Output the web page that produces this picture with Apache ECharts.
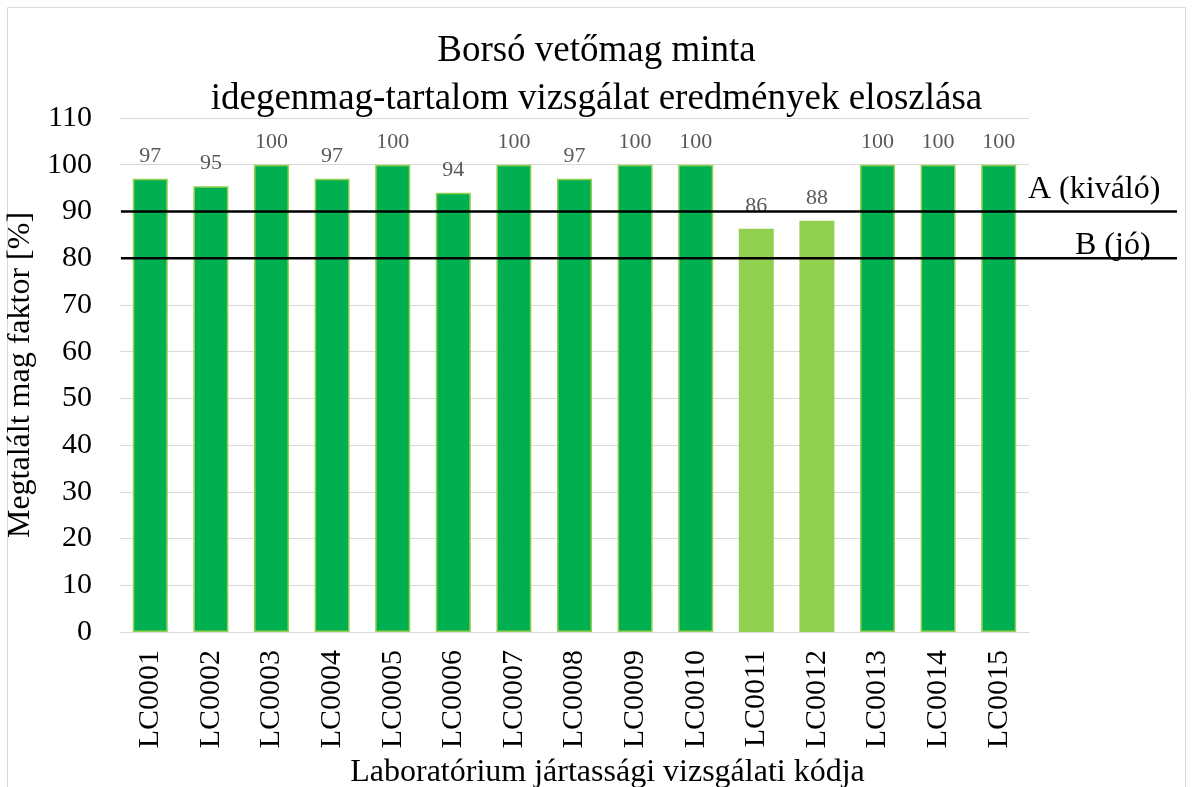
<!DOCTYPE html>
<html>
<head>
<meta charset="utf-8">
<script src="https://cdn.jsdelivr.net/npm/echarts@6/dist/echarts.min.js"></script>
<style>
  html, body { margin: 0; padding: 0; background: #fff; }
  #myChart { width: 1193px; height: 787px; }
</style>
</head>
<body>
<div id="myChart"></div>
<script>
// adatok
const labCodes = ['LC0001', 'LC0002', 'LC0003', 'LC0004', 'LC0005', 'LC0006', 'LC0007', 'LC0008',
  'LC0009', 'LC0010', 'LC0011', 'LC0012', 'LC0013', 'LC0014', 'LC0015']
const magFaktor = [97, 95.4, 100, 97, 100, 94, 100, 97, 100, 100, 86.3, 88, 100, 100, 100]
const yTicks = [0, 110, 10]  // min, max, lépés
const limitA = 90
const limitB = 80

const FONT = '"Liberation Serif", "Times New Roman", serif'
const DARK = '#00B050'
const LIGHT = '#92D050'

// 90 alatti eredmények világosabb zöldek
const barData = magFaktor.map(v => ({
  value: v,
  itemStyle: { color: v < limitA ? LIGHT : DARK }
}))

let options = {
  animation: false,
  title: {
    text: 'Borsó vetőmag minta\nidegenmag-tartalom vizsgálat eredmények eloszlása',
    left: 'center',
    top: 22,
    textStyle: {
      fontFamily: FONT,
      fontWeight: 'normal',
      fontSize: 37,
      lineHeight: 48,
      color: '#000'
    }
  },
  graphic: [{
    type: 'rect',
    shape: { x: 7.5, y: 7.5, width: 1178, height: 800 },
    style: { fill: 'none', stroke: '#d9d9d9', lineWidth: 1 },
    silent: true
  }],
  grid: [
    { left: 120, right: 164, top: 118, bottom: 155, outerBoundsMode: 'none', containLabel: false },
    // referencia vonalak a rajzterületen túl is futnak
    { left: 121, right: 16, top: 118, bottom: 155, outerBoundsMode: 'none', containLabel: false }
  ],
  xAxis: [
    {
      type: 'category',
      data: labCodes,
      gridIndex: 0,
      axisTick: { show: false },
      axisLine: { lineStyle: { color: '#d9d9d9', width: 1 } },
      axisLabel: {
        rotate: 90,
        margin: 18,
        interval: 0,
        fontFamily: FONT,
        fontSize: 30,
        color: '#000'
      },
      name: 'Laboratórium jártassági vizsgálati kódja',
      nameLocation: 'middle',
      nameGap: 113,
      nameTextStyle: { fontFamily: FONT, fontSize: 32, color: '#000', padding: [0, 0, 0, 66] }
    },
    { type: 'value', gridIndex: 1, min: 0, max: 1, show: false }
  ],
  yAxis: [
    {
      type: 'value',
      gridIndex: 0,
      min: yTicks[0],
      max: yTicks[1],
      interval: yTicks[2],
      axisLine: { show: false },
      axisTick: { show: false },
      splitLine: { lineStyle: { color: '#d9d9d9', width: 1 } },
      axisLabel: { margin: 28, fontFamily: FONT, fontSize: 30, color: '#000' },
      name: 'Megtalált mag faktor [%]',
      nameLocation: 'middle',
      nameGap: 71,
      nameTextStyle: { fontFamily: FONT, fontSize: 32, color: '#000' }
    },
    { type: 'value', gridIndex: 1, min: yTicks[0], max: yTicks[1], show: false }
  ],
  series: [
    {
      name: 'Megtalált mag faktor',
      type: 'bar',
      xAxisIndex: 0,
      yAxisIndex: 0,
      barWidth: 35,
      data: barData,
      itemStyle: { borderColor: LIGHT, borderWidth: 1.5 },
      label: {
        show: true,
        position: 'top',
        distance: 12,
        fontFamily: FONT,
        fontSize: 22,
        color: '#595959',
        formatter: p => Math.round(p.value)
      },
      z: 2
    },
    {
      name: 'A (kiváló)',
      type: 'line',
      xAxisIndex: 1,
      yAxisIndex: 1,
      symbol: 'none',
      data: [[0, limitA], [1, limitA]],
      lineStyle: { color: '#000', width: 2.5 },
      endLabel: {
        show: true,
        formatter: 'A (kiváló)',
        offset: [-157, -22],
        fontFamily: FONT,
        fontSize: 32,
        color: '#000'
      },
      z: 5
    },
    {
      name: 'B (jó)',
      type: 'line',
      xAxisIndex: 1,
      yAxisIndex: 1,
      symbol: 'none',
      data: [[0, limitB], [1, limitB]],
      lineStyle: { color: '#000', width: 2.5 },
      endLabel: {
        show: true,
        formatter: 'B (jó)',
        offset: [-110, -13],
        fontFamily: FONT,
        fontSize: 32,
        color: '#000'
      },
      z: 5
    }
  ]
}

let echart = echarts.init(document.getElementById('myChart'))
echart.setOption(options)
</script>
</body>
</html>
